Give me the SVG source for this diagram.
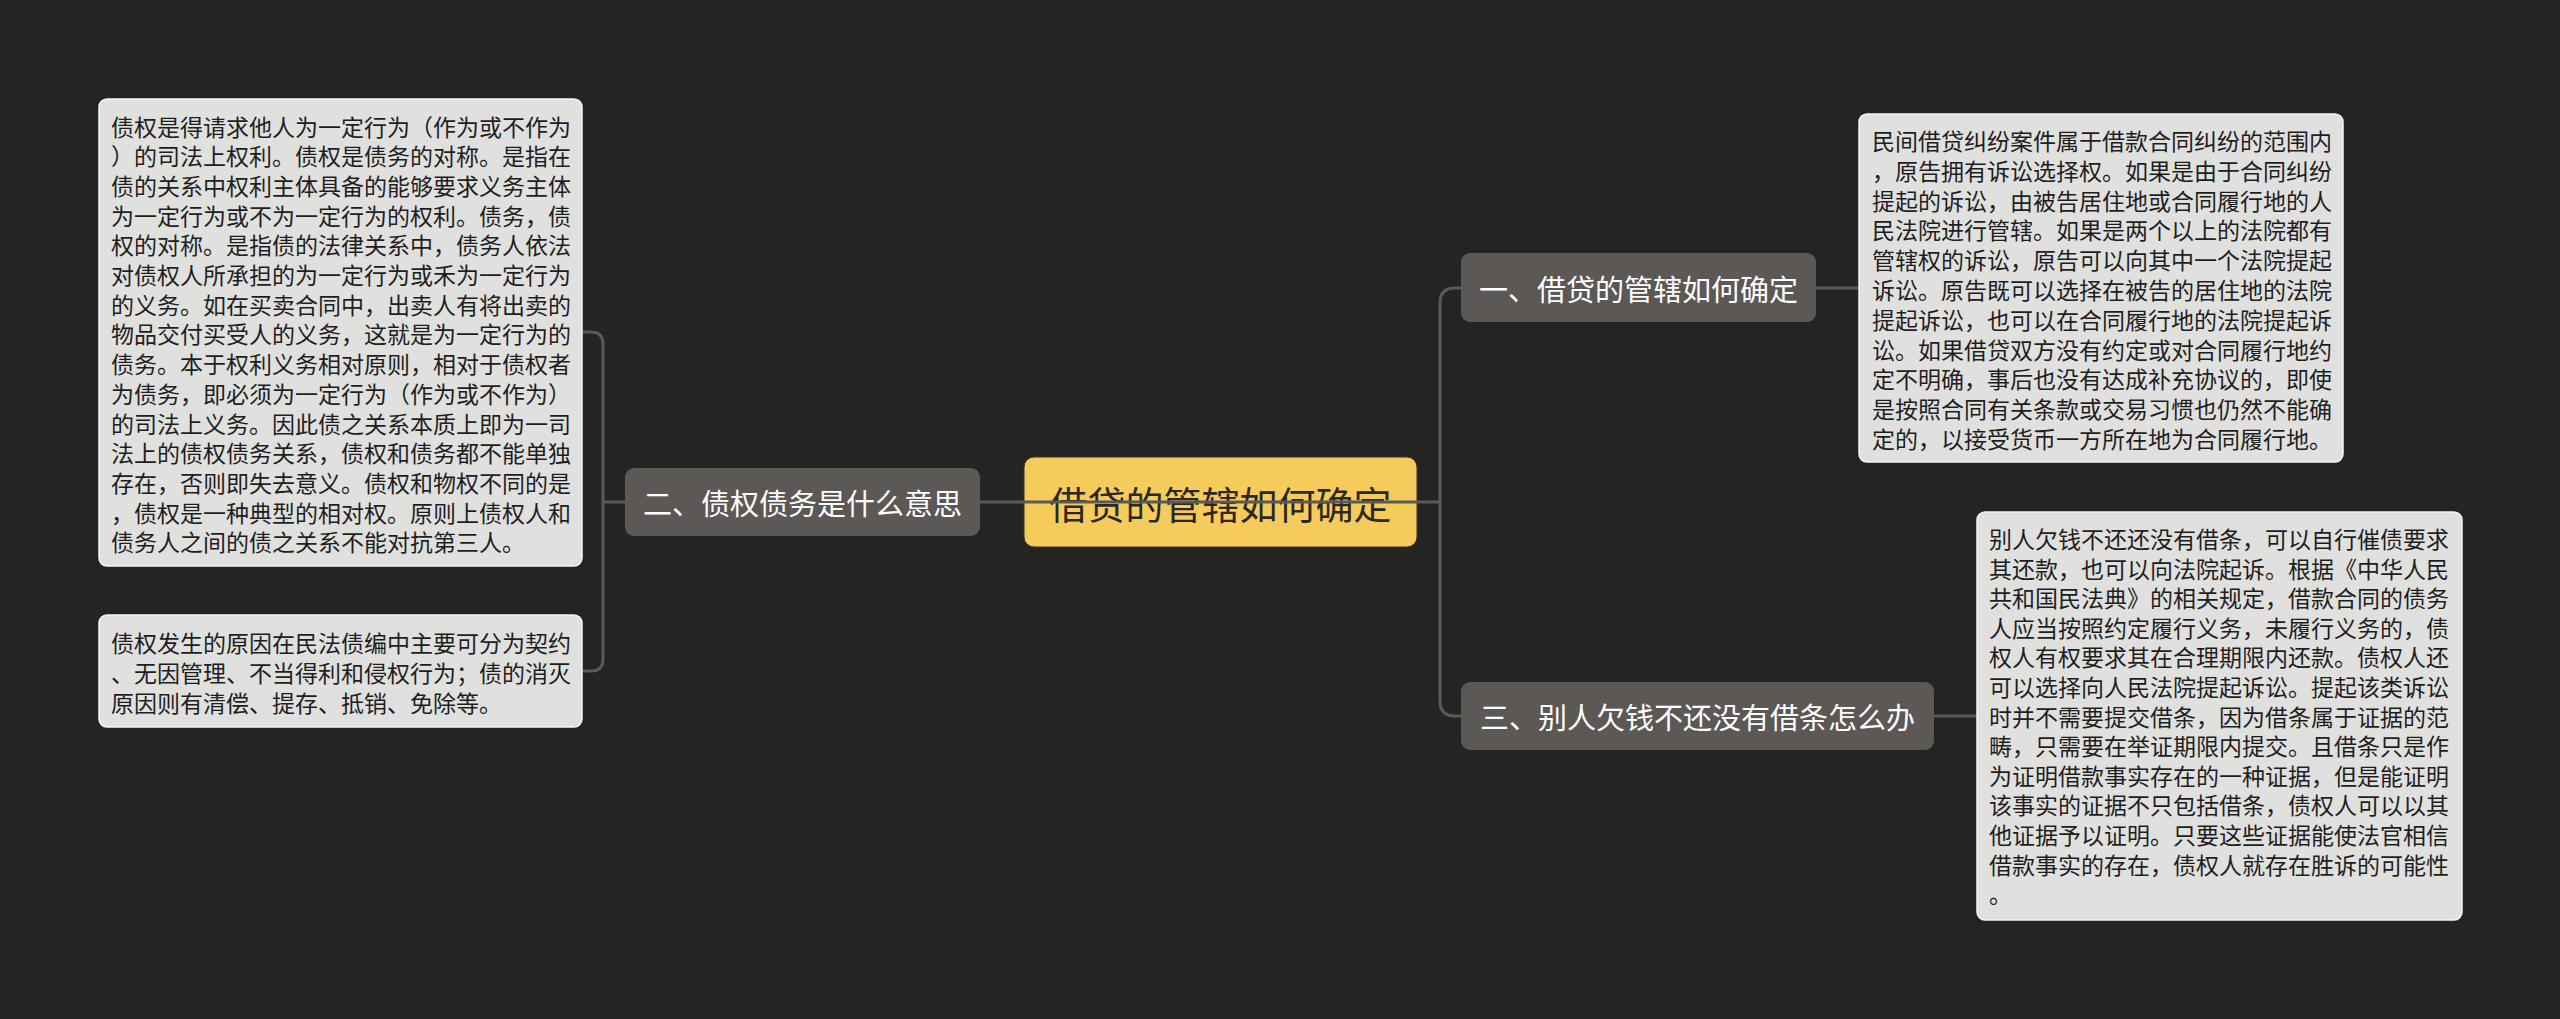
<svg xmlns="http://www.w3.org/2000/svg" width="2560" height="1019" viewBox="0 0 2560 1019">
<style>
.bg{fill:#242422}
.box{fill:#e0e0de;stroke:#f4f4f2;stroke-width:1.5}
.node{fill:#5b5855}
.root{fill:#f5cb5c;stroke:#3b3422;stroke-width:1}
.conn{fill:none;stroke:#5c5a57;stroke-width:3}
.t{font-family:"Noto Sans CJK SC","Noto Sans",sans-serif;font-size:23px;fill:#1e1e1e;dominant-baseline:central}
.nt{font-family:"Noto Sans CJK SC","Noto Sans",sans-serif;font-size:29px;fill:#ffffff;text-anchor:middle;dominant-baseline:central}
.rt{font-family:"Noto Sans CJK SC","Noto Sans",sans-serif;font-size:38px;fill:#2a2820;text-anchor:middle;dominant-baseline:central}
</style>
<rect class="bg" x="0" y="0" width="2560" height="1019"/>
<g id="root">
<rect class="root" x="1024" y="457" width="393" height="90" rx="10"/>
<text class="rt" x="1220.5" y="502">借贷的管辖如何确定</text>
</g>
<g id="connectors">
<path class="conn" d="M583,332 H591 Q603,332 603,344 V659 Q603,671 591,671 H583"/>
<path class="conn" d="M603,502 H1440"/>
<path class="conn" d="M1461,288 H1455 Q1440,288 1440,303 V701 Q1440,716 1455,716 H1461"/>
<path class="conn" d="M1816,288 H1859"/>
<path class="conn" d="M1934,716 H1977"/>
</g>
<g id="node-2">
<rect class="node" x="625" y="468" width="355" height="68" rx="9"/>
<text class="nt" x="802.5" y="502">二、债权债务是什么意思</text>
</g>
<g id="node-2-detail-1">
<rect class="box" x="99" y="99" width="483" height="467" rx="8"/>
<text class="t" x="111" y="125.5">债权是得请求他人为一定行为（作为或不作为</text>
<text class="t" x="111" y="155.2">）的司法上权利。债权是债务的对称。是指在</text>
<text class="t" x="111" y="184.9">债的关系中权利主体具备的能够要求义务主体</text>
<text class="t" x="111" y="214.6">为一定行为或不为一定行为的权利。债务，债</text>
<text class="t" x="111" y="244.3">权的对称。是指债的法律关系中，债务人依法</text>
<text class="t" x="111" y="274">对债权人所承担的为一定行为或禾为一定行为</text>
<text class="t" x="111" y="303.7">的义务。如在买卖合同中，出卖人有将出卖的</text>
<text class="t" x="111" y="333.4">物品交付买受人的义务，这就是为一定行为的</text>
<text class="t" x="111" y="363.1">债务。本于权利义务相对原则，相对于债权者</text>
<text class="t" x="111" y="392.8">为债务，即必须为一定行为（作为或不作为）</text>
<text class="t" x="111" y="422.5">的司法上义务。因此债之关系本质上即为一司</text>
<text class="t" x="111" y="452.2">法上的债权债务关系，债权和债务都不能单独</text>
<text class="t" x="111" y="481.9">存在，否则即失去意义。债权和物权不同的是</text>
<text class="t" x="111" y="511.6">，债权是一种典型的相对权。原则上债权人和</text>
<text class="t" x="111" y="541.3">债务人之间的债之关系不能对抗第三人。</text>
</g>
<g id="node-2-detail-2">
<rect class="box" x="99" y="615" width="483" height="112" rx="8"/>
<text class="t" x="111" y="642">债权发生的原因在民法债编中主要可分为契约</text>
<text class="t" x="111" y="672">、无因管理、不当得利和侵权行为；债的消灭</text>
<text class="t" x="111" y="702">原因则有清偿、提存、抵销、免除等。</text>
</g>
<g id="node-1">
<rect class="node" x="1461" y="253" width="355" height="69" rx="9"/>
<text class="nt" x="1638.5" y="288">一、借贷的管辖如何确定</text>
</g>
<g id="node-1-detail">
<rect class="box" x="1859" y="114" width="484" height="348" rx="8"/>
<text class="t" x="1872" y="140">民间借贷纠纷案件属于借款合同纠纷的范围内</text>
<text class="t" x="1872" y="169.8">，原告拥有诉讼选择权。如果是由于合同纠纷</text>
<text class="t" x="1872" y="199.6">提起的诉讼，由被告居住地或合同履行地的人</text>
<text class="t" x="1872" y="229.4">民法院进行管辖。如果是两个以上的法院都有</text>
<text class="t" x="1872" y="259.2">管辖权的诉讼，原告可以向其中一个法院提起</text>
<text class="t" x="1872" y="289">诉讼。原告既可以选择在被告的居住地的法院</text>
<text class="t" x="1872" y="318.8">提起诉讼，也可以在合同履行地的法院提起诉</text>
<text class="t" x="1872" y="348.6">讼。如果借贷双方没有约定或对合同履行地约</text>
<text class="t" x="1872" y="378.4">定不明确，事后也没有达成补充协议的，即使</text>
<text class="t" x="1872" y="408.2">是按照合同有关条款或交易习惯也仍然不能确</text>
<text class="t" x="1872" y="438">定的，以接受货币一方所在地为合同履行地。</text>
</g>
<g id="node-3">
<rect class="node" x="1461" y="682" width="473" height="68" rx="9"/>
<text class="nt" x="1697.5" y="716">三、别人欠钱不还没有借条怎么办</text>
</g>
<g id="node-3-detail">
<rect class="box" x="1977" y="512" width="485" height="408" rx="8"/>
<text class="t" x="1989" y="538">别人欠钱不还还没有借条，可以自行催债要求</text>
<text class="t" x="1989" y="567.6">其还款，也可以向法院起诉。根据《中华人民</text>
<text class="t" x="1989" y="597.2">共和国民法典》的相关规定，借款合同的债务</text>
<text class="t" x="1989" y="626.8">人应当按照约定履行义务，未履行义务的，债</text>
<text class="t" x="1989" y="656.4">权人有权要求其在合理期限内还款。债权人还</text>
<text class="t" x="1989" y="686">可以选择向人民法院提起诉讼。提起该类诉讼</text>
<text class="t" x="1989" y="715.6">时并不需要提交借条，因为借条属于证据的范</text>
<text class="t" x="1989" y="745.2">畴，只需要在举证期限内提交。且借条只是作</text>
<text class="t" x="1989" y="774.8">为证明借款事实存在的一种证据，但是能证明</text>
<text class="t" x="1989" y="804.4">该事实的证据不只包括借条，债权人可以以其</text>
<text class="t" x="1989" y="834">他证据予以证明。只要这些证据能使法官相信</text>
<text class="t" x="1989" y="863.6">借款事实的存在，债权人就存在胜诉的可能性</text>
<text class="t" x="1989" y="893.2">。</text>
</g>
</svg>
